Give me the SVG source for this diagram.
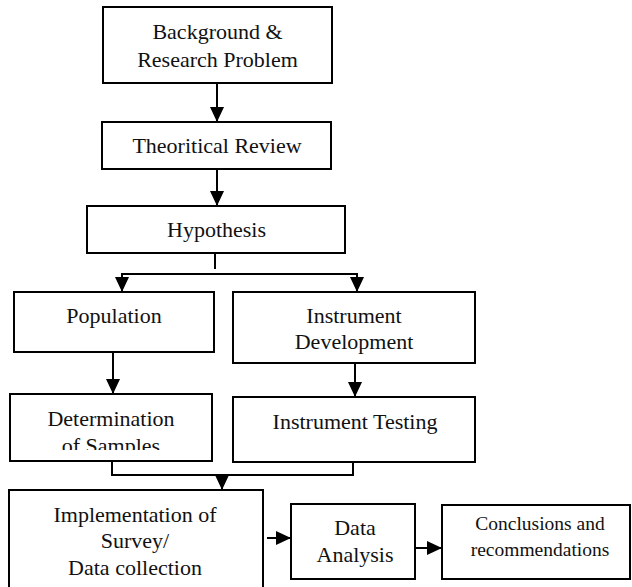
<svg xmlns="http://www.w3.org/2000/svg" width="632" height="587" viewBox="0 0 632 587">
<style>
.box{fill:#fff;stroke:#000;stroke-width:2}
.t{font-family:"Liberation Serif","Times New Roman",serif;font-size:22px;fill:#111;text-anchor:middle}
.s{font-size:19.5px}
.c{fill:none;stroke:#000;stroke-width:2}
</style>
<defs>
<marker id="ah" viewBox="0 0 15 14" refX="15" refY="7" markerWidth="15" markerHeight="14" markerUnits="userSpaceOnUse" orient="auto">
<path d="M0,0 L15,7 L0,14 z" fill="#000"/>
</marker>
<clipPath id="detclip"><rect x="10" y="394" width="202" height="56"/></clipPath>
</defs>
<rect width="632" height="587" fill="#fff"/>
<g id="connectors">
<line class="c" x1="217" y1="83" x2="217" y2="122" marker-end="url(#ah)"/>
<line class="c" x1="217" y1="169" x2="217" y2="206" marker-end="url(#ah)"/>
<line class="c" x1="215" y1="253" x2="215" y2="269"/>
<line class="c" x1="121" y1="274" x2="358" y2="274"/>
<line class="c" x1="122" y1="274" x2="122" y2="292" marker-end="url(#ah)"/>
<line class="c" x1="357" y1="274" x2="357" y2="292" marker-end="url(#ah)"/>
<line class="c" x1="113" y1="352" x2="113" y2="394" marker-end="url(#ah)"/>
<line class="c" x1="355" y1="363" x2="355" y2="397" marker-end="url(#ah)"/>
<polyline class="c" points="112,461 112,475 353,475 353,463"/>
<line class="c" x1="222" y1="475" x2="222" y2="490" marker-end="url(#ah)"/>
<line class="c" x1="267" y1="538" x2="291" y2="538" marker-end="url(#ah)"/>
<line class="c" x1="415" y1="548" x2="442" y2="548" marker-end="url(#ah)"/>
</g>
<g id="background">
<rect class="box" x="103" y="7" width="229" height="76"/>
<text class="t" x="217.5" y="39">Background &amp;</text>
<text class="t" x="217.5" y="67">Research Problem</text>
</g>
<g id="theory">
<rect class="box" x="102" y="122" width="229" height="47"/>
<text class="t" x="217" y="153">Theoritical Review</text>
</g>
<g id="hypothesis">
<rect class="box" x="87" y="206" width="258" height="47"/>
<text class="t" x="216.5" y="237">Hypothesis</text>
</g>
<g id="population">
<rect class="box" x="14" y="292" width="200" height="60"/>
<text class="t" x="114" y="323">Population</text>
</g>
<g id="instrument-development">
<rect class="box" x="233" y="292" width="242" height="71"/>
<text class="t" x="354" y="323">Instrument</text>
<text class="t" x="354" y="349">Development</text>
</g>
<g id="determination">
<rect class="box" x="10" y="394" width="202" height="67"/>
<text class="t" x="111" y="426">Determination</text>
<text class="t" x="111" y="453" clip-path="url(#detclip)">of Samples</text>
</g>
<g id="instrument-testing">
<rect class="box" x="233" y="397" width="242" height="65"/>
<text class="t" x="355" y="429">Instrument Testing</text>
</g>
<g id="implementation">
<rect class="box" x="9" y="490" width="254" height="102"/>
<text class="t" x="135" y="522">Implementation of</text>
<text class="t" x="135" y="548">Survey/</text>
<text class="t" x="135" y="575">Data collection</text>
</g>
<g id="data-analysis">
<rect class="box" x="291" y="504" width="124" height="75"/>
<text class="t" x="355" y="535">Data</text>
<text class="t" x="355" y="562">Analysis</text>
</g>
<g id="conclusions">
<rect class="box" x="442" y="505" width="188" height="74"/>
<text class="t s" x="540" y="530">Conclusions and</text>
<text class="t s" x="540" y="556">recommendations</text>
</g>
</svg>
